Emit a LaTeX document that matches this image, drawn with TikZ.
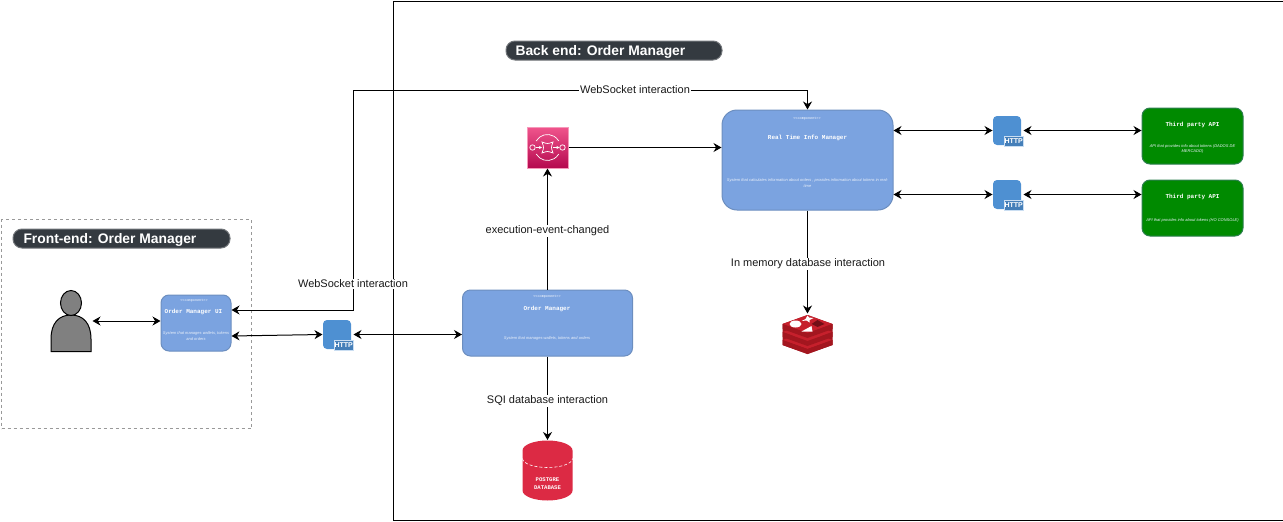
\documentclass[tikz,border=0pt]{standalone}
\usepackage{fontspec}
\setmainfont{Liberation Sans}
\setmonofont{Liberation Mono}
\usetikzlibrary{arrows.meta,positioning,calc}
\definecolor{Pill}{HTML}{343A40}
\definecolor{Comp}{HTML}{7BA3E0}
\definecolor{CompLine}{HTML}{6C8EBF}
\definecolor{Api}{HTML}{008A00}
\definecolor{ApiLine}{HTML}{2D7F4F}
\definecolor{HttpBlue}{HTML}{4E90D2}
\definecolor{DbRed}{HTML}{DC2A44}
\definecolor{SnsTop}{HTML}{F0558C}
\definecolor{SnsBot}{HTML}{B5094F}
\definecolor{RedisTop}{HTML}{C6202C}
\definecolor{RedisSide}{HTML}{A3161F}
\tikzset{
  comp/.style={draw=CompLine,fill=Comp,rounded corners=#1,inner sep=0pt},
  comp/.default=8pt,
  api/.style={draw=ApiLine,fill=Api,rounded corners=8pt,minimum width=101pt,minimum height=56pt,inner sep=0pt},
  pill/.style={fill=Pill,draw=Pill!70,rounded corners=9pt,minimum height=19pt,inner sep=0pt},
  pilltxt/.style={text=white,font=\fontsize{13.85}{16}\selectfont\bfseries,inner sep=0pt,anchor=west},
  stereo/.style={text=white,font=\fontsize{3.5}{4}\selectfont\ttfamily,inner sep=0pt},
  ctitle/.style={text=white,font=\fontsize{6}{7}\selectfont\ttfamily\bfseries,inner sep=0pt},
  cdesc/.style={text=white!85!Comp,font=\fontsize{4}{5.4}\selectfont\itshape,align=center,inner sep=0pt},
  link/.style={fill=white,font=\fontsize{11}{13}\selectfont,text=black!90,inner sep=1pt},
  httpicon/.style={fill=HttpBlue,rounded corners=4pt,minimum width=28pt,minimum height=29pt,inner sep=0pt},
  httptag/.style={fill=HttpBlue!88!black,draw=white!70!HttpBlue,line width=.6pt,text=white,font=\fontsize{7}{8}\selectfont\bfseries,inner sep=0pt,minimum width=19pt,minimum height=10pt},
  icon/.style={inner sep=0pt,minimum width=#1,minimum height=#1},
  every picture/.style={line width=1pt}
}
\begin{document}
\begin{tikzpicture}[x=1pt,y=-1pt,>={Stealth[length=8pt,width=9pt]}]
    \useasboundingbox (0,0) rectangle (1283,522);
    % frames
    \node[draw=black,minimum width=890.5pt,minimum height=519pt,inner sep=0pt,anchor=north west] (backend) at (392.5,1) {};
    \node[draw=black!40,line width=1.4pt,dash pattern=on 3pt off 3pt,minimum width=250pt,minimum height=209pt,inner sep=0pt,anchor=north west] (frontend) at (1,219) {};
    \node[pill,minimum width=216pt] (backpill) at (614,50.5) {};
    \node[pilltxt] (backtxt) at (515,52) {Back end: Order Manager};
    \node[pill,minimum width=217pt] (frontpill) at (121.5,238.5) {};
    \node[pilltxt] (fronttxt) at (23,240) {Front-end: Order Manager};

    % components
    \node[comp,minimum width=70pt,minimum height=56pt] (ui) at (196,323) {};
    \node[comp,minimum width=170pt,minimum height=66pt] (om) at (547.5,323) {};
    \node[comp=15pt,minimum width=171pt,minimum height=100pt] (rtm) at (807.5,160) {};
    \node[api] (apia) at (1192.5,136) {};
    \node[api] (apib) at (1192.5,208) {};

    \node[stereo] (uis) at (194,300.5) {<{}<component>{}>};
    \node[ctitle] (uit) at (193.5,311.5) {Order Manager UI};
    \node[cdesc] (uid) at (196,336) {System that manages wallets, tokens\\and orders};
    \node[stereo] (oms) at (547,296.5) {<{}<component>{}>};
    \node[ctitle] (omt) at (547,308.5) {Order Manager};
    \node[cdesc] (omd) at (547,338) {System that manages wallets, tokens and orders};
    \node[stereo] (rtms) at (807,118.5) {<{}<component>{}>};
    \node[ctitle] (rtmt) at (807.5,137.5) {Real Time Info Manager};
    \node[cdesc] (rtmd) at (807.5,183) {System that calculates information about orders , provides information about tokens in real-\\time};
    \node[ctitle] (apiat) at (1192.5,124.5) {Third party API};
    \node[cdesc] (apiad) at (1192.5,149) {API that provides info about tokens (DADOS DE\\MERCADO)};
    \node[ctitle] (apibt) at (1192.5,196.5) {Third party API};
    \node[cdesc] (apibd) at (1192.5,220.5) {API that provides info about tokens (HO CONSOLE)};

    % icons
    \node[httpicon] (httpa) at (337,334.5) {};
    \node[httpicon] (httpb) at (1007,130.5) {};
    \node[httpicon] (httpc) at (1007,194.5) {};
    \foreach \h/\t in {httpa/taga,httpb/tagb,httpc/tagc}
      \node[httptag,anchor=south east] (\t) at ([xshift=2pt,yshift=-1pt]\h.south east) {HTTP};

    \node[icon=41pt,top color=SnsTop,bottom color=SnsBot,draw=SnsTop!60] (sns) at (547.5,147.5) {};
    \begin{scope}[shift={(sns.center)},white,line width=.7pt]
      \draw (-11.3,-6.5) arc[start angle=210,end angle=330,radius=13];
      \draw (-11.3,6.5) arc[start angle=150,end angle=30,radius=13];
      \draw (-15,0) circle (2.7);
      \draw (15,0) circle (2.7);
      \draw (-5.5,-5.5) .. controls (0,-3.5) .. (5.5,-5.5) .. controls (3.5,0) .. (5.5,5.5) .. controls (0,3.5) .. (-5.5,5.5) .. controls (-3.5,0) .. (-5.5,-5.5) -- cycle;
      \draw[-{Stealth[length=3pt,width=3pt]}] (-12,0) -- (-5.5,0);
      \draw[-{Stealth[length=3pt,width=3pt]}] (5.5,0) -- (12,0);
    \end{scope}

    \node[icon=41pt,minimum width=42pt,minimum height=62pt] (user) at (71,321) {};
    \begin{scope}[shift={(user.center)},draw=black,fill=black!50,line width=1pt]
      \filldraw (-20,30.5) -- (-20,18) .. controls (-20,2) and (-12,-6) .. (0,-6) .. controls (12,-6) and (20,2) .. (20,18) -- (20,30.5) -- cycle;
      \filldraw (0,-18) ellipse (10.5 and 12.5);
    \end{scope}

    \node[icon=51pt,minimum height=60pt] (db) at (547.5,470.5) {};
    \begin{scope}[shift={(db.center)}]
      \fill[DbRed] (-25,-20) arc[x radius=25,y radius=10,start angle=180,end angle=360] -- (25,20) arc[x radius=25,y radius=10,start angle=0,end angle=180] -- cycle;
      \draw[white,line width=.6pt,dash pattern=on 3pt off 2pt] (-25,-12) arc[x radius=25,y radius=9,start angle=180,end angle=0];
    \end{scope}
    \node[text=white,font=\fontsize{5.6}{8}\selectfont\ttfamily\bfseries,align=center,inner sep=0pt] (dbt) at (547.5,484) {POSTGRE\\DATABASE};

    \node[icon=50pt,minimum height=42pt] (redis) at (807.5,335) {};
    \begin{scope}[shift={(redis.center)}]
      \fill[RedisSide] (-25,-11) -- (0,-20) -- (25,-11) -- (25,10) -- (0,19) -- (-25,10) -- cycle;
      \foreach \o in {16,8,0}{
        \fill[RedisTop] (-25,-11+\o) -- (0,-20+\o) -- (25,-11+\o) -- (0,-2+\o) -- cycle;
        \fill[RedisSide] (-25,-11+\o) -- (0,-2+\o) -- (25,-11+\o) -- (25,-6+\o) -- (0,3+\o) -- (-25,-6+\o) -- cycle;
      }
      \fill[white] (-12,-11) ellipse (6 and 3.5);
      \fill[white] (0,-19.5) -- (1.5,-17.5) -- (6,-17) -- (2,-15) -- (2,-12.5) -- (-1,-14.5) -- (-6,-14) -- (-2,-16) -- cycle;
      \fill[white] (-6,-3.5) -- (4,-9) -- (5,-3.5) -- cycle;
      \fill[RedisSide!70!black] (10,-15) -- (17,-11) -- (10,-8) -- (4,-11) -- cycle;
    \end{scope}

    % connectors
    \coordinate (wstop) at (353,90);
    \draw[<->] ([yshift=13pt]ui.east) -| (wstop) -| (rtm.north);
    \draw[<->] (user.east) -- (ui.west |- user.east);
    \draw[<->] ([yshift=-13pt]ui.east) -- (httpa.west);
    \draw[<->] ([xshift=2pt]httpa.east) -- (om.west |- httpa.east);
    \draw[->] (om.north) -- (sns.south);
    \draw[->] (sns.east) -- (rtm.west |- sns.east);
    \draw[->] (om.south) -- (db.north);
    \draw[->] (rtm.south) -- (redis.north);
    \draw[<->] (rtm.east |- httpb.east) -- (httpb.west);
    \draw[<->] (rtm.east |- httpc.east) -- (httpc.west);
    \draw[<->] ([xshift=2pt]httpb.east) -- (apia.west |- httpb.east);
    \draw[<->] ([xshift=2pt]httpc.east) -- (apib.west |- httpc.east);

    % labels
    \node[link] (wsa) at (635,90) {WebSocket interaction};
    \node[link] (wsb) at (353,284) {WebSocket interaction};
    \node[link] (evt) at (547.5,231) {execution-event-changed};
    \node[link] (sqldb) at (547.5,401) {SQI database interaction};
    \node[link] (memdb) at (808,264) {In memory database interaction};
  \end{tikzpicture}
\end{document}
